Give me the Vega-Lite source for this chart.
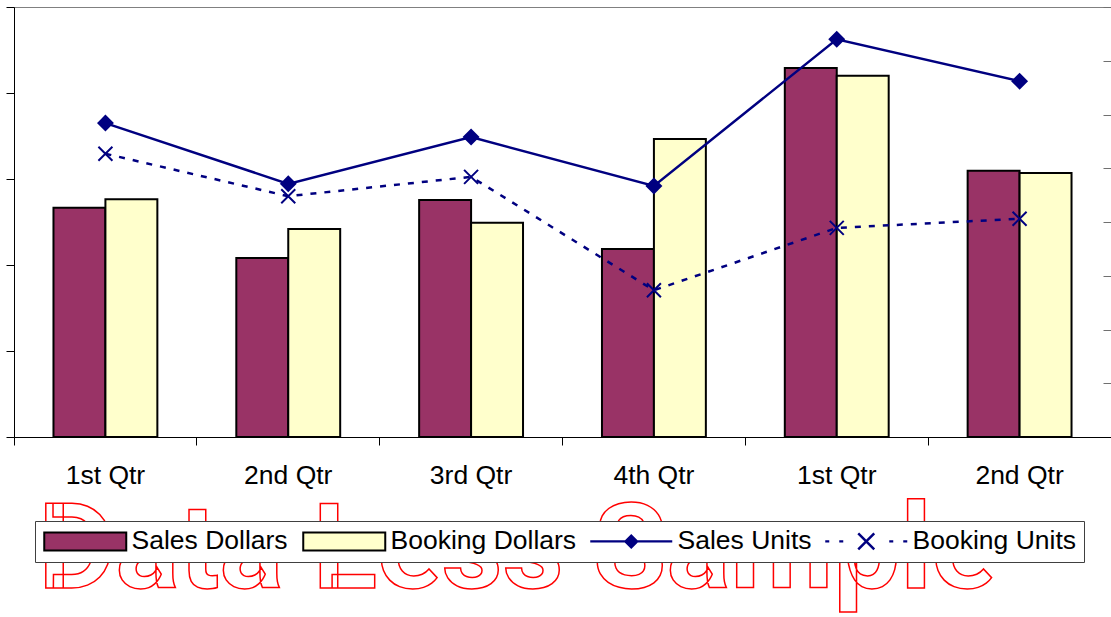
{
  "$schema": "https://vega.github.io/schema/vega-lite/v6.json",
  "width": 1097,
  "height": 430,
  "autosize": {"type": "none"},
  "padding": {"left": 14, "top": 7, "right": 0, "bottom": 180},
  "background": "white",
  "data": {
    "values": [
      {"idx": 1, "series": "Sales Dollars", "kind": "bar", "value": 53.3},
      {"idx": 1, "series": "Booking Dollars", "kind": "bar", "value": 55.3},
      {"idx": 2, "series": "Sales Dollars", "kind": "bar", "value": 41.6},
      {"idx": 2, "series": "Booking Dollars", "kind": "bar", "value": 48.4},
      {"idx": 3, "series": "Sales Dollars", "kind": "bar", "value": 55.1},
      {"idx": 3, "series": "Booking Dollars", "kind": "bar", "value": 49.8},
      {"idx": 4, "series": "Sales Dollars", "kind": "bar", "value": 43.7},
      {"idx": 4, "series": "Booking Dollars", "kind": "bar", "value": 69.3},
      {"idx": 5, "series": "Sales Dollars", "kind": "bar", "value": 85.8},
      {"idx": 5, "series": "Booking Dollars", "kind": "bar", "value": 84.0},
      {"idx": 6, "series": "Sales Dollars", "kind": "bar", "value": 61.9},
      {"idx": 6, "series": "Booking Dollars", "kind": "bar", "value": 61.4},
      {"idx": 1, "series": "Sales Units", "kind": "line", "value": 58.4},
      {"idx": 2, "series": "Sales Units", "kind": "line", "value": 47.1},
      {"idx": 3, "series": "Sales Units", "kind": "line", "value": 55.8},
      {"idx": 4, "series": "Sales Units", "kind": "line", "value": 46.7},
      {"idx": 5, "series": "Sales Units", "kind": "line", "value": 74.0},
      {"idx": 6, "series": "Sales Units", "kind": "line", "value": 66.2},
      {"idx": 1, "series": "Booking Units", "kind": "line", "value": 52.7},
      {"idx": 2, "series": "Booking Units", "kind": "line", "value": 44.8},
      {"idx": 3, "series": "Booking Units", "kind": "line", "value": 48.4},
      {"idx": 4, "series": "Booking Units", "kind": "line", "value": 27.3},
      {"idx": 5, "series": "Booking Units", "kind": "line", "value": 38.9},
      {"idx": 6, "series": "Booking Units", "kind": "line", "value": 40.6}
    ]
  },
  "encoding": {
    "x": {
      "field": "idx",
      "type": "ordinal",
      "scale": {"paddingInner": 0, "paddingOuter": 0},
      "axis": {
        "title": null,
        "labelExpr": "['1st Qtr','2nd Qtr','3rd Qtr','4th Qtr','1st Qtr','2nd Qtr'][datum.value - 1]",
        "labelAngle": 0,
        "labelFont": "Liberation Sans",
        "labelFontSize": 26.5,
        "labelColor": "black",
        "labelPadding": 17,
        "bandPosition": 0,
        "tickSize": 8,
        "tickColor": "black",
        "domainColor": "black",
        "zindex": 1
      }
    }
  },
  "layer": [
    {
      "layer": [
        {
          "transform": [{"filter": "datum.kind == 'bar'"}],
          "mark": {"type": "bar", "stroke": "black", "strokeWidth": 2},
          "encoding": {
            "xOffset": {
              "field": "series",
              "sort": ["Sales Dollars", "Booking Dollars"],
              "scale": {"paddingInner": 0, "paddingOuter": 0.76}
            },
            "y": {
              "field": "value",
              "type": "quantitative",
              "scale": {"domain": [0, 100], "nice": false},
              "axis": {
                "title": null,
                "labels": false,
                "values": [0, 20, 40, 60, 80, 100],
                "grid": false,
                "tickSize": 8,
                "tickColor": "black",
                "domainColor": "black"
              }
            },
            "color": {
              "field": "series",
              "type": "nominal",
              "scale": {
                "domain": ["Sales Dollars", "Booking Dollars"],
                "range": ["#993366", "#FFFFCC"]
              },
              "legend": null
            }
          }
        },
        {
          "data": {"values": [{"text": "Data Less Sample"}]},
          "mark": {
            "type": "text",
            "font": "Roboto",
            "fontWeight": "bold",
            "fontSize": 119,
            "fill": "white",
            "stroke": "red",
            "strokeWidth": 1.5,
            "align": "center",
            "baseline": "alphabetic",
            "dx": 46
          },
          "encoding": {
            "x": {"datum": 3},
            "y": {"datum": -35.1},
            "text": {"field": "text"}
          }
        }
      ]
    },
    {
      "encoding": {
        "stroke": {
          "field": "series",
          "type": "nominal",
          "scale": {
            "domain": ["Sales Dollars", "Booking Dollars", "Sales Units", "Booking Units"],
            "range": ["black", "black", "#000080", "#000080"]
          },
          "legend": {
            "title": null,
            "orient": "none",
            "legendX": 21,
            "legendY": 514,
            "direction": "horizontal",
            "columns": 4,
            "padding": 7,
            "strokeColor": "#404040",
            "fillColor": "white",
            "labelFont": "Liberation Sans",
            "labelFontSize": 26.5,
            "labelColor": "black",
            "labelLimit": 400,
            "symbolSize": 400,
            "symbolOffset": 30,
            "labelOffset": 33,
            "columnPadding": 11,
            "encode": {
              "symbols": {
                "update": {
                  "shape": {"signal": "datum.value == 'Sales Units' ? 'M-4.1,-0.12H4.1V0.12H-4.1Z M0,-0.75L0.75,0L0,0.75L-0.75,0Z' : datum.value == 'Booking Units' ? 'M-4.1,-0.12H-3.7V0.12H-4.1Z M-2.7,-0.12H-2.3V0.12H-2.7Z M2.3,-0.12H2.7V0.12H2.3Z M3.7,-0.12H4.1V0.12H3.7Z M-0.712,-0.888L0.888,0.712L0.712,0.888L-0.888,-0.712Z M0.712,-0.888L0.888,-0.712L-0.712,0.888L-0.888,0.712Z' : 'M-4.1,-0.9H4.1V0.9H-4.1Z'"},
                  "fill": {"signal": "datum.value == 'Sales Dollars' ? '#993366' : datum.value == 'Booking Dollars' ? '#FFFFCC' : '#000080'"},
                  "fillOpacity": {"value": 1},
                  "opacity": {"value": 1},
                  "strokeWidth": {"signal": "datum.value == 'Sales Dollars' || datum.value == 'Booking Dollars' ? 2 : 0"},
                  "strokeOpacity": {"value": 1},
                  "strokeDash": {"value": []}
                }
              }
            }
          }
        }
      },
      "layer": [
        {
          "transform": [{"filter": "datum.series == 'Sales Units'"}],
          "mark": {"type": "line", "strokeWidth": 2.5},
          "encoding": {
            "y": {
              "field": "value",
              "type": "quantitative",
              "scale": {"domain": [0, 80], "nice": false},
              "axis": {
                "title": null,
                "labels": false,
                "values": [0, 10, 20, 30, 40, 50, 60, 70, 80],
                "grid": false,
                "tickSize": -8,
                "tickColor": "#707070",
                "domain": false
              }
            }
          }
        },
        {
          "transform": [{"filter": "datum.series == 'Booking Units'"}],
          "mark": {"type": "line", "strokeWidth": 2.5, "strokeDash": [6, 8]},
          "encoding": {"y": {"field": "value", "type": "quantitative"}}
        },
        {
          "transform": [{"filter": "datum.series == 'Sales Units'"}],
          "mark": {"type": "point", "shape": "diamond", "filled": true, "fill": "#000080", "size": 200, "opacity": 1},
          "encoding": {"y": {"field": "value", "type": "quantitative"}}
        },
        {
          "transform": [{"filter": "datum.series == 'Booking Units'"}],
          "mark": {"type": "point", "shape": "M-1,-1L1,1M1,-1L-1,1", "filled": false, "size": 196, "strokeWidth": 2, "opacity": 1},
          "encoding": {"y": {"field": "value", "type": "quantitative"}}
        }
      ]
    }
  ],
  "resolve": {"scale": {"y": "independent"}},
  "config": {
    "view": {"stroke": "#808080"},
    "axis": {"labelFont": "Liberation Sans"}
  }
}
